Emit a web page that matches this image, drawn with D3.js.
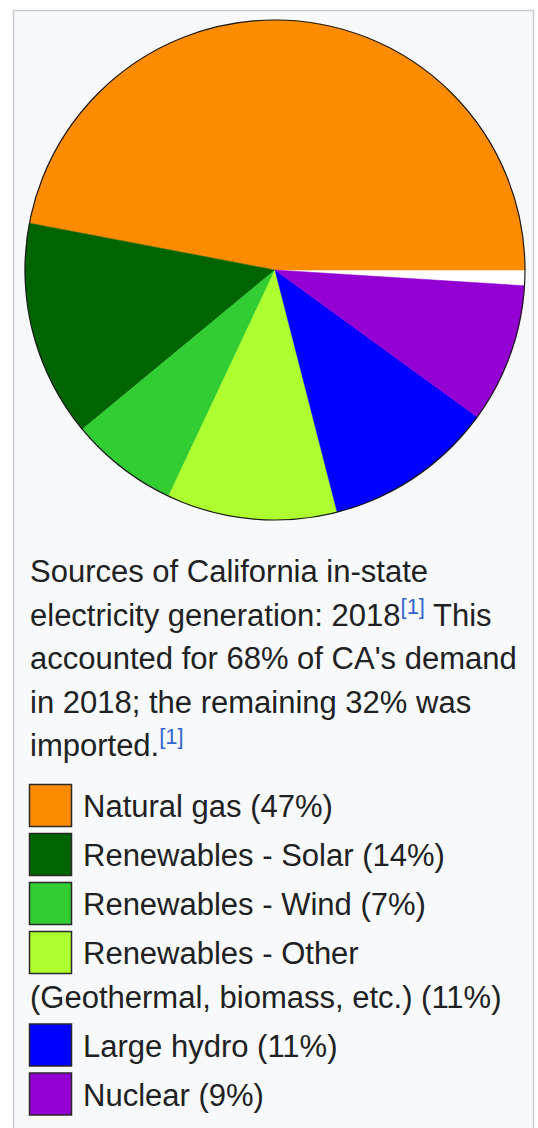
<!DOCTYPE html>
<html>
<head>
<meta charset="utf-8">
<script src="https://cdn.jsdelivr.net/npm/d3@7"></script>
<style>
  html, body { margin: 0; padding: 0; background: #ffffff; }
  svg { display: block; }
</style>
</head>
<body>
<svg id="chart" width="538" height="1128"></svg>
<script>
// California in-state electricity generation, 2018 (percent of total)
const categories = [
  "Natural gas",
  "Renewables - Solar",
  "Renewables - Wind",
  "Renewables - Other (Geothermal, biomass, etc.)",
  "Large hydro",
  "Nuclear"
];
const shares = [47, 14, 7, 11, 11, 9];
const colors = ["#ff8c00", "#006400", "#32cd32", "#adff2f", "#0000ff", "#9400d3"];

const captionLines = [
  [{ t: "Sources of California in-state" }],
  [{ t: "electricity generation: 2018" }, { t: "[1]", sup: true }, { t: " This" }],
  [{ t: "accounted for 68% of CA's demand" }],
  [{ t: "in 2018; the remaining 32% was" }],
  [{ t: "imported." }, { t: "[1]", sup: true }]
];

const W = 538, H = 1128;
const svg = d3.select("#chart");
const FONT = "'Liberation Sans', Arial, sans-serif";
const TEXT_COLOR = "#202122";
const LINK_COLOR = "#3366cc";
const FS = 31;
const SUP_FS = 22;
const SUP_RISE = 12;

// thumbnail frame
svg.append("rect")
  .attr("x", 13.5).attr("y", 10.5)
  .attr("width", 520).attr("height", H + 10)
  .attr("fill", "#f8f9fa")
  .attr("stroke", "#c8ccd1")
  .attr("stroke-width", 1.5);

// pie
const cx = 275, cy = 270, R = 250;
const total = 100;
const used = d3.sum(shares);
// slices run counter-clockwise from 3 o'clock; the unassigned remainder stays blank
const start = Math.PI / 2;
const end = start - 2 * Math.PI * used / total;
const pie = d3.pie().sort(null).value(d => d).startAngle(start).endAngle(end);
const arc = d3.arc().innerRadius(0).outerRadius(R);

const g = svg.append("g").attr("transform", `translate(${cx},${cy})`);
g.append("circle").attr("r", R).attr("fill", "#ffffff");
g.selectAll("path.slice")
  .data(pie(shares))
  .join("path")
  .attr("class", "slice")
  .attr("d", arc)
  .attr("fill", (d, i) => colors[i])
  .attr("stroke", (d, i) => colors[i])
  .attr("stroke-width", 0.5);
g.append("circle").attr("r", R).attr("fill", "none")
  .attr("stroke", "#1a1a1a").attr("stroke-width", 1.2);

// caption
const textX = 30;
const lineH = 43.5;
const capBase = 582;
captionLines.forEach((parts, li) => {
  const t = svg.append("text")
    .attr("x", textX).attr("y", capBase + li * lineH)
    .attr("font-family", FONT).attr("font-size", FS)
    .attr("fill", TEXT_COLOR)
    .attr("xml:space", "preserve");
  let raised = false;
  parts.forEach(p => {
    const s = t.append("tspan").text(p.t);
    if (p.sup) {
      s.attr("font-size", SUP_FS).attr("fill", LINK_COLOR).attr("dy", -SUP_RISE);
      raised = true;
    } else if (raised) {
      s.attr("dy", SUP_RISE);
      raised = false;
    }
  });
});

// legend
const sq = 43, rowPitch = 49, labelX = 83, maxRight = 522;
let rowTop = 784;
categories.forEach((c, i) => {
  svg.append("rect")
    .attr("x", 29.5).attr("y", rowTop + 0.5)
    .attr("width", sq - 1).attr("height", sq - 1)
    .attr("fill", colors[i])
    .attr("stroke", "#2a2a2a").attr("stroke-width", 1.5);

  const label = `${c} (${shares[i]}%)`;
  const words = label.split(" ");
  const t = svg.append("text")
    .attr("x", labelX).attr("y", rowTop + 33)
    .attr("font-family", FONT).attr("font-size", FS)
    .attr("fill", TEXT_COLOR);
  // greedy wrap: the first line follows the swatch, later lines start at the left margin
  let line = [];
  let lineNo = 0;
  let tspan = t.append("tspan").attr("x", labelX);
  words.forEach(w => {
    line.push(w);
    tspan.text(line.join(" "));
    const right = (lineNo === 0 ? labelX : textX) + tspan.node().getComputedTextLength();
    if (right > maxRight && line.length > 1) {
      line.pop();
      tspan.text(line.join(" "));
      line = [w];
      lineNo++;
      tspan = t.append("tspan").attr("x", textX).attr("dy", lineH).text(w);
    }
  });
  rowTop += rowPitch + lineNo * lineH;
});
</script>
</body>
</html>
